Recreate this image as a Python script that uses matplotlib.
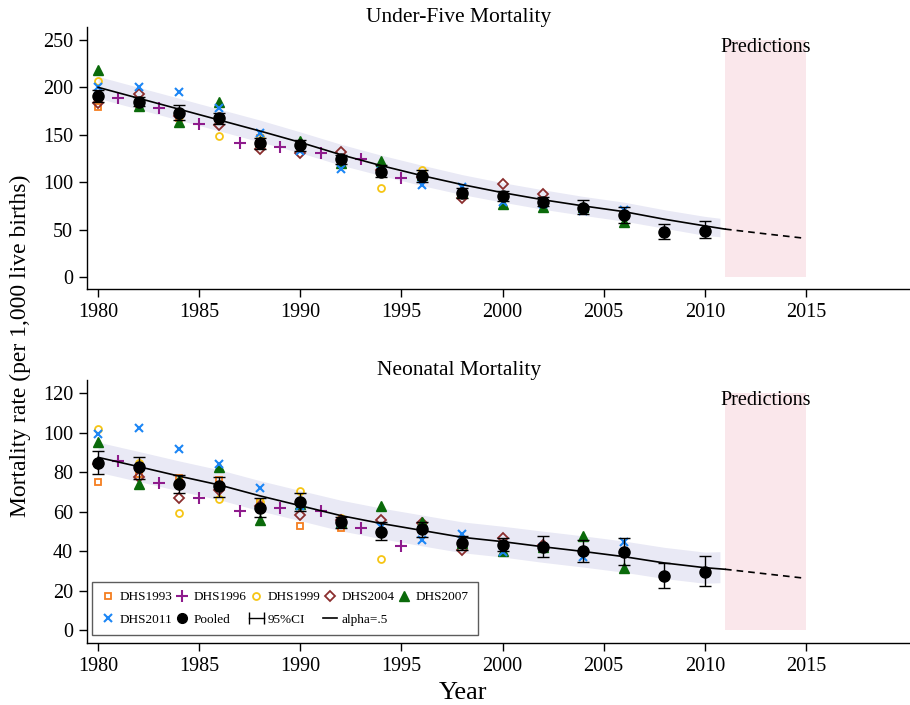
import matplotlib
matplotlib.use("Agg")
import matplotlib.pyplot as plt
from matplotlib.lines import Line2D
from matplotlib.legend_handler import HandlerBase

plt.rcParams['font.family'] = ['Liberation Serif', 'DejaVu Serif']

# ---- data ----
even_years = [1980, 1982, 1984, 1986, 1988, 1990, 1992, 1994, 1996, 1998, 2000, 2002, 2004, 2006, 2008, 2010]
odd_years = [1981, 1983, 1985, 1987, 1989, 1991, 1993, 1995]

# survey estimates, under-five (top) and neonatal (bottom)
dhs1993_years = even_years[:7]
dhs1993_u5 = [179, 182, 168, 164, 147, 137, 125]
dhs1993_nn = [74.9, 79, 77, 76, 65, 52.9, 51.6]

dhs1996_years = odd_years
dhs1996_u5 = [189, 178.6, 161.4, 141, 136.8, 130.5, 124.5, 104]
dhs1996_nn = [85.8, 74.7, 67.1, 60.5, 62, 60.3, 51.6, 42.6]

dhs1999_years = even_years[:9]
dhs1999_u5 = [206.7, 185, 170, 148.7, 148, 140, 125, 93.5, 112.9]
dhs1999_nn = [101.9, 84.5, 59.5, 66.2, 65, 70.6, 57, 35.8, 52]

dhs2004_years = even_years[:12]
dhs2004_u5 = [183, 192.7, 170, 160.3, 135, 130.5, 132, 113, 105, 83.7, 98, 87.2]
dhs2004_nn = [84, 77.7, 66.8, 71, 63, 58.3, 56, 55.8, 54, 40.6, 46.8, 43]

dhs2007_years = even_years[:14]
dhs2007_u5 = [218, 180.4, 163.8, 185, 143, 143.8, 120, 122.7, 108, 90, 77, 74, 74, 58.4]
dhs2007_nn = [95.5, 73.9, 76, 82.5, 55.8, 64, 55, 63, 54.9, 44, 40, 42, 47.7, 31.6]

dhs2011_years = even_years[:14]
dhs2011_u5 = [200.7, 200.7, 195.5, 178.6, 151.6, 133, 113.6, 112, 97, 94.6, 78.8, 77, 70, 70.7]
dhs2011_nn = [99.2, 102.6, 91.8, 84, 71.8, 63, 54, 52.4, 45.6, 48.5, 39.7, 42, 37, 44.5]

# pooled estimates with 95% CI
pooled_u5 = [191, 185, 173.3, 167.4, 141, 139, 124, 111, 106.5, 88.3, 85.8, 79.4, 73.1, 65.4, 47.1, 48.8]
pooled_u5_lo = [185, 180, 166, 161.5, 135, 133, 119, 105, 100.5, 83, 80.5, 74.5, 66.5, 57.3, 40, 41.5]
pooled_u5_hi = [197, 190, 181.4, 173, 147, 145, 129, 118, 112.5, 93.5, 91, 84.5, 81, 73.5, 56, 59.4]
pooled_nn = [84.5, 82.8, 74, 73, 61.7, 65, 54.6, 49.8, 51, 44, 43.1, 42.2, 40.2, 39.7, 27.4, 29.6]
pooled_nn_lo = [79, 76.7, 69.3, 67.6, 57.5, 60.5, 51.5, 45.6, 47, 40.5, 40, 37.2, 34.6, 33, 21.5, 22.3]
pooled_nn_hi = [90.9, 87.9, 78.7, 77.4, 66.8, 69.6, 57.5, 55, 55, 47.5, 46.5, 47.8, 45.5, 46.5, 33.8, 37.7]

# smoothed fit (alpha=.5), its band, and the prediction
fit_years = even_years + [2011]
u5_fit = [200, 188.5, 177, 165.5, 154, 142, 129, 117.5, 107, 97.5, 89, 81.5, 75, 69, 61, 54, 50.6]
nn_fit = [87.5, 82.8, 78, 73.5, 68, 63, 58, 54, 50.5, 47, 44.8, 42.2, 39.8, 37.2, 34, 31.6, 30.8]

band_years = even_years + [2010.75]
u5_band_lo = [188.5, 177, 165.5, 154, 142.5, 131, 118, 107, 96.5, 87, 79, 71.5, 65, 59, 51.5, 44, 42.5]
u5_band_hi = [211.5, 200, 188.5, 177, 165.5, 153, 140, 128.5, 118, 108, 99.5, 92, 85, 79, 71, 64, 62]
nn_band_lo = [80, 75.3, 70.5, 66, 60.4, 55.4, 50.3, 46.3, 42.7, 39.2, 37, 34.3, 31.9, 29.3, 26.1, 23.7, 24]
nn_band_hi = [95.2, 90.5, 85.7, 81.2, 75.7, 70.7, 65.8, 61.8, 58.3, 54.8, 52.6, 50.1, 47.7, 45.1, 41.9, 39.5, 39.7]

pred_years = [2011, 2013, 2015]
u5_pred = [50.6, 45.6, 40.8]
nn_pred = [30.8, 28.5, 26.2]

pred_span = [2011, 2015]
u5_span_top = 250
nn_span_top = 120

surveys = [
    ('DHS1993', dhs1993_years, dhs1993_u5, dhs1993_nn),
    ('DHS1996', dhs1996_years, dhs1996_u5, dhs1996_nn),
    ('DHS1999', dhs1999_years, dhs1999_u5, dhs1999_nn),
    ('DHS2004', dhs2004_years, dhs2004_u5, dhs2004_nn),
    ('DHS2007', dhs2007_years, dhs2007_u5, dhs2007_nn),
    ('DHS2011', dhs2011_years, dhs2011_u5, dhs2011_nn),
]

styles = {
    'DHS1993': dict(marker='s', mfc='none', mec='#F57E20', ms=5, mew=1.3),
    'DHS1996': dict(marker='+', color='#8E1B8C', ms=8, mew=1.5),
    'DHS1999': dict(marker='o', mfc='none', mec='#F6C514', ms=5, mew=1.3),
    'DHS2004': dict(marker='D', mfc='none', mec='#8B2E2E', ms=5, mew=1.3),
    'DHS2007': dict(marker='^', color='#0A6A0A', ms=6.5),
    'DHS2011': dict(marker='x', color='#1C86F5', ms=6, mew=1.5),
}

BAND = '#E9E9F5'
PINK = '#FAE7EB'


class CIHandler(HandlerBase):
    # horizontal capped range, like the Stata legend key
    def create_artists(self, legend, orig_handle, xdescent, ydescent,
                       width, height, fontsize, trans):
        y = height / 2 - ydescent
        x0, x1 = -xdescent, width - xdescent
        bar = Line2D([x0, x1], [y, y], color='black', lw=1, transform=trans)
        caps = Line2D([x0, x1], [y, y], ls='none', marker='|', ms=8,
                      mew=1, color='black', transform=trans)
        return [bar, caps]


fig = plt.figure(figsize=(9.1, 7.05), dpi=100)
ax1 = fig.add_axes([0.0956, 0.590, 0.9044, 0.3717])
ax2 = fig.add_axes([0.0956, 0.0884, 0.9044, 0.3726])

panels = [
    (ax1, 'Under-Five Mortality', 1, u5_fit, u5_band_lo, u5_band_hi, u5_pred,
     pooled_u5, pooled_u5_lo, pooled_u5_hi, u5_span_top, (-12.6, 263.6), [0, 50, 100, 150, 200, 250]),
    (ax2, 'Neonatal Mortality', 2, nn_fit, nn_band_lo, nn_band_hi, nn_pred,
     pooled_nn, pooled_nn_lo, pooled_nn_hi, nn_span_top, (-6.4, 126.7), [0, 20, 40, 60, 80, 100, 120]),
]

for (ax, title, col, fit, blo, bhi, pred, pm, plo, phi, span_top, ylim, yticks) in panels:
    ax.fill_between(pred_span, 0, span_top, color=PINK, lw=0, zorder=0)
    ax.text(sum(pred_span) / 2, span_top * 0.97, 'Predictions', ha='center', va='center', fontsize=14.5)
    ax.fill_between(band_years, blo, bhi, color=BAND, lw=0, zorder=1)

    for name, yrs, u5, nn in surveys:
        vals = u5 if col == 1 else nn
        ax.plot(yrs, vals, ls='none', zorder=3, **styles[name])

    ax.plot(fit_years, fit, color='black', lw=1.2, zorder=4)
    ax.plot(pred_years, pred, color='black', lw=1.2, ls=(0, (4, 3)), zorder=4)

    err = [[m - l for m, l in zip(pm, plo)], [h - m for m, h in zip(pm, phi)]]
    ax.errorbar(even_years, pm, yerr=err, fmt='o', color='black', ms=8,
                ecolor='black', elinewidth=1, capsize=4, capthick=1, zorder=5)

    ax.set_title(title, fontsize=15.5, pad=3, x=0.452)
    ax.set_xlim(1979.45, 2020.15)
    ax.set_ylim(*ylim)
    ax.set_xticks([1980, 1985, 1990, 1995, 2000, 2005, 2010, 2015])
    ax.set_yticks(yticks)
    ax.tick_params(direction='out', length=6, width=1, labelsize=14.5, pad=4)
    for s in ('top', 'right'):
        ax.spines[s].set_visible(False)
    for s in ('left', 'bottom'):
        ax.spines[s].set_linewidth(1)

# legend in the lower panel
h = {}
for name, _, _, _ in surveys:
    h[name] = Line2D([], [], ls='none', **styles[name])
h['Pooled'] = Line2D([], [], ls='none', marker='o', color='black', ms=7)
ci_key = Line2D([], [], color='black')
h['alpha=.5'] = Line2D([], [], color='black', lw=1.2)

order = [('DHS1993', h['DHS1993']), ('DHS2011', h['DHS2011']),
         ('DHS1996', h['DHS1996']), ('Pooled', h['Pooled']),
         ('DHS1999', h['DHS1999']), ('95%CI', ci_key),
         ('DHS2004', h['DHS2004']), ('alpha=.5', h['alpha=.5']),
         ('DHS2007', h['DHS2007'])]
leg = ax2.legend([o[1] for o in order], [o[0] for o in order], ncol=5,
                 loc='lower left', bbox_to_anchor=(0.006, 0.03), borderaxespad=0,
                 fontsize=9.5, frameon=True, fancybox=False, edgecolor='#333333',
                 handlelength=1.1, handletextpad=0.3, columnspacing=0.2,
                 borderpad=0.7, labelspacing=0.75, handler_map={ci_key: CIHandler()})
leg.get_frame().set_linewidth(1)
leg.set_zorder(10)

fig.text(0.022, 0.51, 'Mortality rate (per 1,000 live births)', rotation=90,
         ha='center', va='center', fontsize=17)
fig.text(463 / 910, 0.017, 'Year', ha='center', va='center', fontsize=19)

fig.savefig('out.png', dpi=100, facecolor='white')
